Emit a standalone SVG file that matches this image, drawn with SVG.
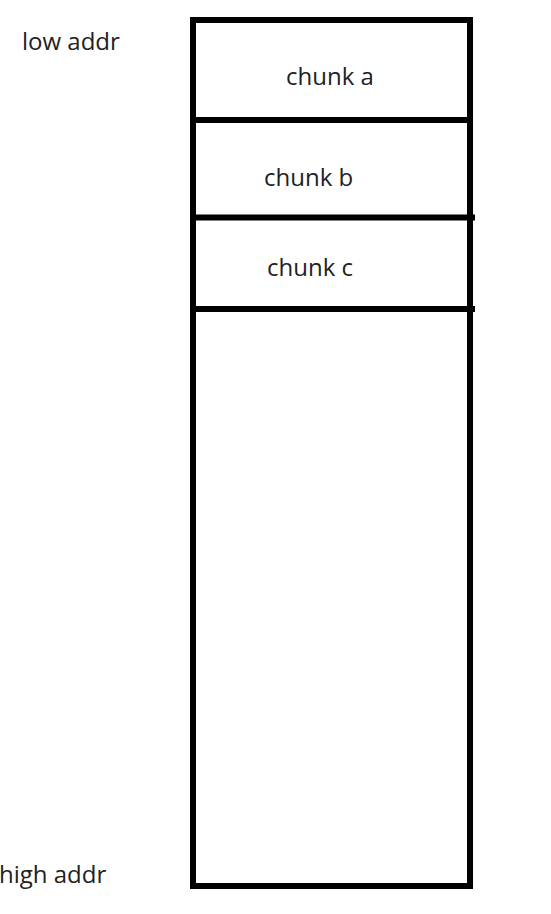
<svg xmlns="http://www.w3.org/2000/svg" width="551" height="914" viewBox="0 0 551 914">
<style>
.t{font-family:"Open Sans","Noto Sans",sans-serif;font-size:24px;fill:#222}
.box{fill:#fff;stroke:#000;stroke-width:6}
.ln{stroke:#000;stroke-width:6;fill:none}
</style>
<rect width="551" height="914" fill="#fff"/>
<g id="heap">
<rect class="box" x="193" y="20" width="277" height="866"/>
</g>
<g id="connectors">
<line class="ln" x1="193" y1="120" x2="470" y2="120"/>
<line class="ln" x1="193" y1="217.5" x2="475" y2="217.5"/>
<line class="ln" x1="193" y1="309" x2="475" y2="309"/>
</g>
<g id="chunk-a"><text class="t" x="286" y="85">chunk a</text></g>
<g id="chunk-b"><text class="t" x="264" y="186">chunk b</text></g>
<g id="chunk-c"><text class="t" x="267" y="276">chunk c</text></g>
<g id="low-addr"><text class="t" x="22" y="50">low addr</text></g>
<g id="high-addr"><text class="t" x="-1" y="883">high addr</text></g>
</svg>
